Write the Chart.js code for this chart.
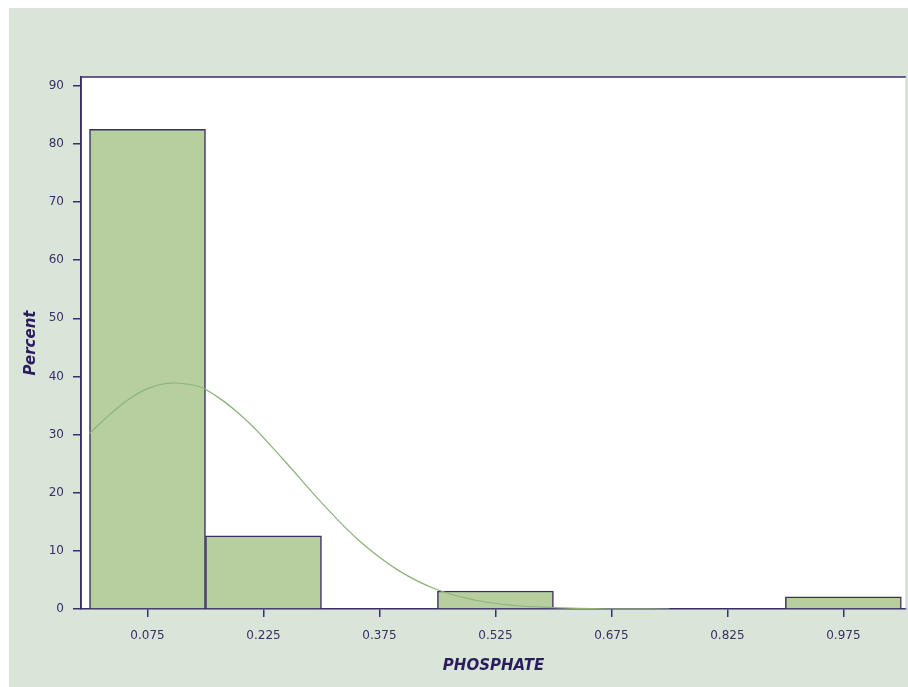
<!DOCTYPE html>
<html>
<head>
<meta charset="utf-8">
<script src="https://cdn.jsdelivr.net/npm/chart.js@4"></script>
<style>
  html, body { margin: 0; padding: 0; background: #fff; }
  #wrap { width: 908px; height: 687px; }
</style>
</head>
<body>
<div id="wrap"><canvas id="histo" width="908" height="687"></canvas></div>
<script>
// bin midpoints and percent of observations
const binMids = [0.075, 0.225, 0.375, 0.525, 0.675, 0.825, 0.975];
const binPercent = [82.5, 12.6, 0, 3.1, 0, 0, 2.1];

// fitted normal curve
const curveX = [0, 0.025, 0.05, 0.075, 0.10, 0.125, 0.15, 0.20, 0.25, 0.30, 0.35, 0.40, 0.45, 0.50, 0.55, 0.60, 0.65, 0.70, 0.75];
const curveY = [30.2, 33.3, 36.0, 37.9, 38.8, 38.7, 37.8, 32.8, 25.8, 18.3, 11.6, 6.6, 3.3, 1.5, 0.6, 0.25, 0.08, 0.02, 0];

const xTickLabels = ['0.075', '0.225', '0.375', '0.525', '0.675', '0.825', '0.975'];
const yTickValues = [0, 10, 20, 30, 40, 50, 60, 70, 80, 90];

const ink = '#3a2d68';
const titleInk = '#2b1c5c';

const backdrop = {
  id: 'backdrop',
  beforeDraw(chart) {
    const { ctx, chartArea: a } = chart;
    ctx.save();
    ctx.fillStyle = '#fff';
    ctx.fillRect(0, 0, chart.width, chart.height);
    ctx.fillStyle = '#dae5d9';
    ctx.fillRect(9, 8, chart.width - 9, chart.height - 8);
    ctx.fillStyle = '#fff';
    ctx.fillRect(a.left, a.top, a.right - a.left, a.bottom - a.top);
    ctx.restore();
  },
  afterDraw(chart) {
    const { ctx, chartArea: a } = chart;
    ctx.save();
    ctx.strokeStyle = ink;
    ctx.lineWidth = 1.5;
    ctx.beginPath();
    ctx.moveTo(a.left, a.bottom);
    ctx.lineTo(a.left, a.top);
    ctx.lineTo(a.right, a.top);
    ctx.stroke();
    ctx.strokeStyle = '#c8cfd8';
    ctx.lineWidth = 1;
    ctx.beginPath();
    ctx.moveTo(a.right, a.top);
    ctx.lineTo(a.right, a.bottom);
    ctx.stroke();
    ctx.restore();
  }
};

new Chart(document.getElementById('histo'), {
  type: 'bar',
  data: {
    datasets: [{
      type: 'line',
      data: curveX.map((x, i) => ({ x: x, y: curveY[i] })),
      borderColor: '#8db37a',
      borderWidth: 1.2,
      pointRadius: 0,
      tension: 0.4,
      order: 0
    }, {
      data: binMids.map((x, i) => ({ x: x, y: binPercent[i] })),
      backgroundColor: '#b7cf9f',
      borderColor: ink,
      borderWidth: 1.5,
      barPercentage: 1,
      categoryPercentage: 1,
      order: 1
    }]
  },
  options: {
    responsive: false,
    animation: false,
    layout: { padding: { left: 9, top: 77, right: 2, bottom: 0 } },
    plugins: {
      legend: { display: false },
      tooltip: { enabled: false }
    },
    scales: {
      x: {
        type: 'linear',
        offset: false,
        min: -0.011,
        max: 1.056,
        afterBuildTicks: s => { s.ticks = xTickLabels.map(t => ({ value: parseFloat(t) })); },
        afterFit: s => { s.height = 78; },
        ticks: {
          color: ink,
          font: { family: 'DejaVu Sans', size: 12 },
          padding: 12,
          maxRotation: 0,
          autoSkip: false,
          callback: (v, i) => xTickLabels[i]
        },
        grid: { offset: false, drawOnChartArea: false, drawTicks: true, tickLength: 8, color: ink, lineWidth: 1.5 },
        border: { display: true, color: ink, width: 1.5 },
        title: {
          display: true,
          text: 'PHOSPHATE',
          color: titleInk,
          font: { family: 'DejaVu Sans', size: 15, weight: 'bold', style: 'italic' },
          padding: { top: 0, bottom: 12 }
        }
      },
      y: {
        min: 0,
        max: 91.5,
        afterBuildTicks: s => { s.ticks = yTickValues.map(v => ({ value: v })); },
        afterFit: s => { s.width = 72; },
        ticks: {
          color: ink,
          font: { family: 'DejaVu Sans', size: 12 },
          padding: 9
        },
        grid: { drawOnChartArea: false, drawTicks: true, tickLength: 8, color: ink, lineWidth: 1.5 },
        border: { display: true, color: ink, width: 1.5 },
        title: {
          display: true,
          text: 'Percent',
          color: titleInk,
          font: { family: 'DejaVu Sans', size: 15, weight: 'bold', style: 'italic' },
          padding: { top: 13, bottom: 0 }
        }
      }
    }
  },
  plugins: [backdrop]
});
</script>
</body>
</html>
